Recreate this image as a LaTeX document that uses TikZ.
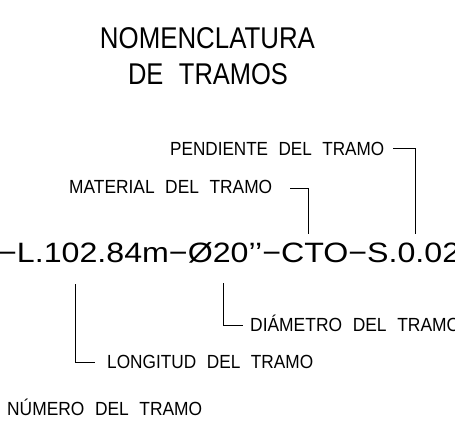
\documentclass[tikz,border=0pt]{standalone}
\usepackage{fontspec}
\setmainfont{Liberation Sans}[WordSpace=2.2]
\usepackage{graphicx}
\newcommand{\fittext}[3]{\resizebox{#1pt}{\height}{\fontsize{#2pt}{#2pt}\selectfont #3}}
\begin{document}
\begin{tikzpicture}[x=1pt,y=-1pt,
  txt/.style={inner sep=0pt, anchor=base west},
  ttl/.style={inner sep=0pt, anchor=base},
  lead/.style={line width=0.9pt, black}]
\useasboundingbox (0,0) rectangle (455,429);
\begin{scope}
\clip (0,0) rectangle (455,429);
% title
\node[ttl] (t1) at (207.5,48.3) {\fittext{215}{30}{NOMENCLATURA}};
\node[ttl] (t2) at (208,84) {\fittext{160}{30}{DE TRAMOS}};
% labels above
\node[txt] (pend) at (170,155.5) {\fittext{214}{19}{PENDIENTE DEL TRAMO}};
\node[txt] (mat) at (69,193) {\fittext{203}{19}{MATERIAL DEL TRAMO}};
% main code
\node[txt] (code) at (-2,262) {\fittext{462}{28}{−L.102.84m−Ø20’’−CTO−S.0.02}};
% labels below
\node[txt] (diam) at (250,331) {\fittext{210}{19}{DIÁMETRO DEL TRAMO}};
\node[txt] (long) at (107,368) {\fittext{206}{19}{LONGITUD DEL TRAMO}};
\node[txt] (num) at (7,415) {\fittext{195}{19}{NÚMERO DEL TRAMO}};
% leader coordinates
\coordinate (pA) at (393,148);
\coordinate (pB) at (415,148);
\coordinate (pC) at (415,234);
\coordinate (mA) at (290,188);
\coordinate (mB) at (308,188);
\coordinate (mC) at (308,234);
\coordinate (dA) at (223,283);
\coordinate (dB) at (223,325);
\coordinate (dC) at (243,325);
\coordinate (lA) at (75,284);
\coordinate (lB) at (75,362);
\coordinate (lC) at (95,362);
\draw[lead] (pA) -- (pB) -- (pC);
\draw[lead] (mA) -- (mB) -- (mC);
\draw[lead] (dA) -- (dB) -- (dC);
\draw[lead] (lA) -- (lB) -- (lC);
\end{scope}
\end{tikzpicture}
\end{document}
